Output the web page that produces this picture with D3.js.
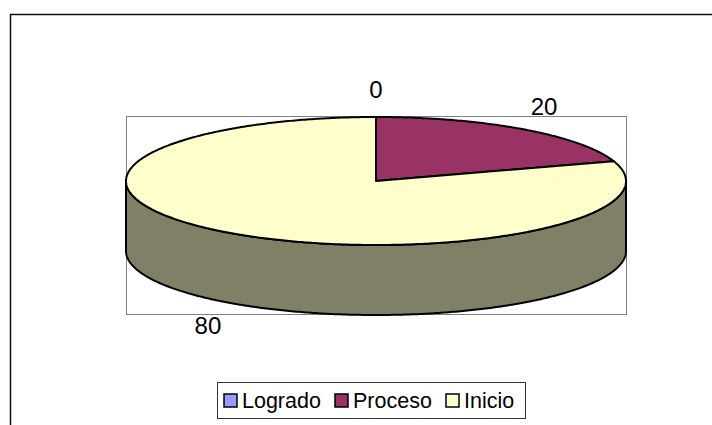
<!DOCTYPE html>
<html>
<head>
<meta charset="utf-8">
<script src="https://cdn.jsdelivr.net/npm/d3@7/dist/d3.min.js"></script>
<style>
  html, body { margin: 0; padding: 0; background: #fff; }
  svg { display: block; font-family: "Liberation Sans", Arial, sans-serif; }
</style>
</head>
<body>
<svg id="chart" width="712" height="425"></svg>
<script>
// Series data
const categories = ["Logrado", "Proceso", "Inicio"];
const values = [0, 20, 80];
const topColors = ["#9999FF", "#993366", "#FFFFCC"];
const sideColors = ["#4D4D80", "#4D1A33", "#808066"];

const svg = d3.select("#chart");

// Chart frame and plot area
svg.append("rect")
  .attr("x", 10.5).attr("y", 14.5).attr("width", 720).attr("height", 430)
  .attr("fill", "#fff").attr("stroke", "#111").attr("stroke-width", 1.5);

const plot = { x: 126, y: 116, w: 500, h: 198 };
svg.append("rect")
  .attr("x", plot.x + 0.5).attr("y", plot.y + 0.5)
  .attr("width", plot.w).attr("height", plot.h)
  .attr("fill", "none").attr("stroke", "#808080").attr("stroke-width", 1);

// 3D pie geometry: elliptical top face plus extruded side wall
const cx = 376, cy = 181, rx = 250, ry = 64, depth = 70;

const pie = d3.pie().sort(null).startAngle(0).endAngle(2 * Math.PI);
const arcs = pie(values);

const px = a => cx + rx * Math.sin(a);
const py = a => cy - ry * Math.cos(a);

function topPath(d) {
  const p = d3.path();
  p.moveTo(cx, cy);
  p.lineTo(px(d.startAngle), py(d.startAngle));
  const n = Math.max(2, Math.ceil((d.endAngle - d.startAngle) / 0.01));
  for (let i = 1; i <= n; i++) {
    const a = d.startAngle + (d.endAngle - d.startAngle) * i / n;
    p.lineTo(px(a), py(a));
  }
  p.closePath();
  return p.toString();
}

function sidePath(d) {
  const a0 = Math.max(d.startAngle, Math.PI / 2);
  const a1 = Math.min(d.endAngle, 3 * Math.PI / 2);
  if (a1 <= a0) return null;
  const n = Math.max(2, Math.ceil((a1 - a0) / 0.01));
  const p = d3.path();
  p.moveTo(px(a0), py(a0));
  for (let i = 1; i <= n; i++) {
    const a = a0 + (a1 - a0) * i / n;
    p.lineTo(px(a), py(a));
  }
  for (let i = n; i >= 0; i--) {
    const a = a0 + (a1 - a0) * i / n;
    p.lineTo(px(a), py(a) + depth);
  }
  p.closePath();
  return p.toString();
}

const g = svg.append("g");

g.selectAll("path.side")
  .data(arcs.filter(d => d.value > 0 && sidePath(d)))
  .join("path")
  .attr("class", "side")
  .attr("d", sidePath)
  .attr("fill", d => sideColors[d.index])
  .attr("stroke", "#000").attr("stroke-width", 2).attr("stroke-linejoin", "round");

g.selectAll("path.top")
  .data(arcs.filter(d => d.value > 0))
  .join("path")
  .attr("class", "top")
  .attr("d", topPath)
  .attr("fill", d => topColors[d.index])
  .attr("stroke", "#000").attr("stroke-width", 2).attr("stroke-linejoin", "round");

// Value labels just outside each slice
const gapX = 36, gapY = 28;
svg.selectAll("text.val")
  .data(arcs)
  .join("text")
  .attr("class", "val")
  .each(function (d) {
    const m = (d.startAngle + d.endAngle) / 2;
    const front = Math.cos(m) < 0 ? depth : 0;
    const x = px(m) + gapX * Math.sin(m);
    const y = py(m) + front - gapY * Math.cos(m);
    d3.select(this).attr("x", x).attr("y", y);
  })
  .attr("text-anchor", "middle")
  .attr("dominant-baseline", "central")
  .attr("font-size", 24)
  .attr("fill", "#000")
  .text(d => d.value);

// Legend
const legend = svg.append("g");
legend.append("rect")
  .attr("x", 217.5).attr("y", 382.5).attr("width", 308).attr("height", 36)
  .attr("fill", "#fff").attr("stroke", "#333").attr("stroke-width", 1);

const itemX = [224, 335, 446];
categories.forEach((c, i) => {
  legend.append("rect")
    .attr("x", itemX[i]).attr("y", 394).attr("width", 13).attr("height", 13)
    .attr("fill", topColors[i]).attr("stroke", "#000").attr("stroke-width", 1.5);
  legend.append("text")
    .attr("x", itemX[i] + 18).attr("y", 408)
    .attr("font-size", 21.5).attr("fill", "#000")
    .text(c);
});
</script>
</body>
</html>
